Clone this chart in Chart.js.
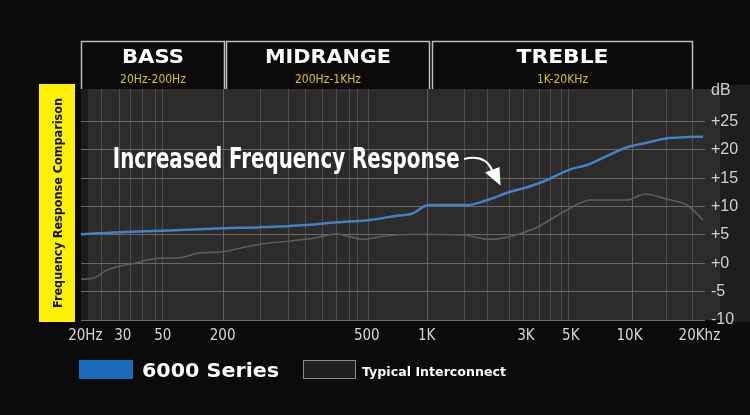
<!DOCTYPE html>
<html><head><meta charset="utf-8">
<script src="https://cdn.jsdelivr.net/npm/chart.js@4/dist/chart.umd.min.js"></script>
<style>html,body{margin:0;padding:0;background:#0b0b0b;}#wrap{width:750px;height:415px;position:relative;}</style>
</head><body><div id="wrap"><canvas id="c" width="750" height="415"></canvas></div>
<script>
// ---- data (x in axis units 0..100 along the stylised frequency axis, y in dB) ----
const seriesNames = ['6000 Series', 'Typical Interconnect'];
const series6000X = [0, 6.2, 13.1, 22.8, 28.7, 36.2, 41.0, 46.3, 50.6, 53.2, 55.1, 56.4, 61.9, 65.1, 68.8, 71.5, 74.7, 78.4, 81.1, 84.3, 87.5, 90.7, 93.9, 96.5, 99.7];
const series6000Y = [5.1, 5.45, 5.73, 6.16, 6.33, 6.74, 7.21, 7.62, 8.38, 8.8, 10.08, 10.26, 10.26, 11.14, 12.6, 13.38, 14.67, 16.55, 17.31, 18.9, 20.43, 21.24, 22.01, 22.19, 22.3];
const typicalX = [0, 1.9, 4.2, 6.25, 9.0, 10.6, 12.7, 15.9, 18.6, 22.8, 26.6, 29.8, 34.0, 37.2, 41.0, 42.6, 45.2, 47.9, 53.2, 61.2, 65.5, 72.4, 77.9, 81.6, 87.5, 90.4, 93.9, 97.1, 99.7];
const typicalY = [-2.83, -2.65, -1.19, -0.49, 0.09, 0.57, 0.87, 0.97, 1.75, 2.03, 2.91, 3.51, 3.97, 4.39, 5.15, 4.79, 4.21, 4.67, 5.10, 4.97, 4.21, 5.98, 9.38, 11.14, 11.14, 12.2, 11.27, 10.26, 7.62];
const xGridPositions = [3.3, 6.1, 8.0, 9.9, 12.0, 13.0, 22.9, 28.8, 33.2, 36.0, 38.7, 41.0, 43.0, 44.3, 46.0, 55.5, 61.4, 65.2, 68.6, 70.9, 73.4, 75.2, 77.0, 78.1, 88.4, 93.9, 98.0];
const xTickPositions = [0.7, 6.7, 13.1, 22.7, 45.8, 55.4, 71.3, 78.5, 87.9, 99.1];
const xTickLabels = ['20Hz', '30', '50', '200', '500', '1K', '3K', '5K', '10K', '20Khz'];
const yTickValues = [-10, -5, 0, 5, 10, 15, 20, 25, 30.5];
const yTickLabels = ['-10', '-5', '+0', '+5', '+10', '+15', '+20', '+25', 'dB'];
const bandNames = ['BASS', 'MIDRANGE', 'TREBLE'];
const bandRanges = ['20Hz-200Hz', '200Hz-1KHz', '1K-20KHz'];
const bandFrom = [0, 23.2, 56.3];
const bandTo = [22.9, 55.8, 97.9];
const sideTitle = 'Frequency Response Comparison';
const noteText = 'Increased Frequency Response';

const NARROW = "'Liberation Sans Narrow','DejaVu Sans Condensed','Liberation Sans',sans-serif";
const SANS = "'Liberation Sans','Arial',sans-serif";
const HEAVY = "'DejaVu Sans','Liberation Sans',sans-serif";
const bandTitleWidths = [62, 126, 92];

function fitText(ctx, text, x, y, w, center) {
  const m = ctx.measureText(text).width;
  ctx.save();
  ctx.translate(x, y);
  ctx.scale(w / m, 1);
  ctx.textAlign = 'left';
  ctx.fillText(text, center ? -m / 2 : 0, 0);
  ctx.restore();
}

const bgPlugin = {
  id: 'bg',
  beforeDraw(chart) {
    const c = chart.ctx, a = chart.chartArea;
    c.save();
    c.fillStyle = '#0b0b0b';
    c.fillRect(0, 0, chart.width, chart.height);
    c.fillStyle = '#2e2b2b';
    c.fillRect(a.left, a.top, a.right - a.left + 15, a.bottom - a.top);
    c.fillStyle = '#1f1e1e';
    c.fillRect(a.right + 15, a.top - 4, chart.width - a.right - 15, a.bottom - a.top + 6);
    c.fillStyle = '#1c1b1b';
    c.fillRect(a.left, a.top, 7, a.bottom - a.top);
    c.restore();
  }
};

const decoPlugin = {
  id: 'deco',
  afterDraw(chart) {
    const c = chart.ctx, a = chart.chartArea, xs = chart.scales.x, ys = chart.scales.y;
    c.save();
    // header bands
    c.strokeStyle = '#bdbdbd';
    c.lineWidth = 1.5;
    for (let i = 0; i < bandNames.length; i++) {
      const l = Math.round(xs.getPixelForValue(bandFrom[i])) + 0.5;
      const r = Math.round(xs.getPixelForValue(bandTo[i])) + 0.5;
      c.beginPath();
      c.moveTo(l, a.top);
      c.lineTo(l, 41.5);
      c.lineTo(r, 41.5);
      c.lineTo(r, a.top);
      c.stroke();
      const cx = (l + r) / 2;
      c.fillStyle = '#ffffff';
      c.font = 'bold 20px ' + HEAVY;
      c.textBaseline = 'alphabetic';
      fitText(c, bandNames[i], cx, 63, bandTitleWidths[i], true);
      c.fillStyle = '#d8c41c';
      c.font = '12px ' + NARROW;
      c.textAlign = 'center';
      c.fillText(bandRanges[i], cx, 83);
    }
    // side label
    c.fillStyle = '#fff200';
    c.fillRect(39, 84, 36, 238);
    c.save();
    c.translate(61.5, 203);
    c.rotate(-Math.PI / 2);
    c.fillStyle = '#111';
    c.font = 'bold 13px ' + NARROW;
    c.textBaseline = 'alphabetic';
    fitText(c, sideTitle, 0, 0, 210, true);
    c.restore();
    // annotation
    c.fillStyle = '#ffffff';
    c.font = 'bold 28px ' + NARROW;
    c.textBaseline = 'alphabetic';
    fitText(c, noteText, xs.getPixelForValue(5.1), ys.getPixelForValue(16.8), 347, false);
    c.strokeStyle = '#ffffff';
    c.lineWidth = 2;
    c.beginPath();
    c.moveTo(464, 159);
    c.quadraticCurveTo(485, 154, 492, 170);
    c.stroke();
    c.beginPath();
    c.moveTo(485, 172.5);
    c.lineTo(499.5, 167);
    c.lineTo(500.5, 185.5);
    c.closePath();
    c.fill();
    // legend
    const ds = chart.data.datasets;
    c.fillStyle = '#1b6cb8';
    c.fillRect(79, 360, 54, 19);
    c.fillStyle = '#ffffff';
    c.font = 'bold 20px ' + HEAVY;
    fitText(c, ds[0].label, 142, 377, 137, false);
    c.fillStyle = '#231f20';
    c.fillRect(303, 360, 53, 19);
    c.strokeStyle = '#8a8a8a';
    c.lineWidth = 1;
    c.strokeRect(303.5, 360.5, 52, 18);
    c.fillStyle = '#ffffff';
    c.font = 'bold 13px ' + HEAVY;
    fitText(c, ds[1].label, 362, 376, 144, false);
    c.restore();
  }
};

new Chart(document.getElementById('c').getContext('2d'), {
  type: 'line',
  data: {
    datasets: [
      { label: seriesNames[0], data: series6000X.map((x, i) => ({ x, y: series6000Y[i] })),
        borderColor: '#4580c8', borderWidth: 2.5, pointRadius: 0, cubicInterpolationMode: 'monotone' },
      { label: seriesNames[1], data: typicalX.map((x, i) => ({ x, y: typicalY[i] })),
        borderColor: '#5f5c5c', borderWidth: 1.6, pointRadius: 0, cubicInterpolationMode: 'monotone' }
    ]
  },
  options: {
    responsive: false, animation: false, devicePixelRatio: 1,
    layout: { padding: { left: 81, top: 89, right: 0, bottom: 65 } },
    plugins: { legend: { display: false }, tooltip: { enabled: false } },
    scales: {
      x: {
        type: 'linear', min: 0, max: 100, position: 'bottom',
        afterBuildTicks: s => { s.ticks = xGridPositions.map(v => ({ value: v })); },
        afterFit: s => { s.height = 0; },
        ticks: { display: false },
        grid: { color: c => ([22.9, 55.5, 88.4].includes(c.tick && c.tick.value) ? '#605e5e' : '#4f4d4d'), lineWidth: 1, drawTicks: false },
        border: { display: false }
      },
      x2: {
        type: 'linear', min: 0, max: 100, position: 'bottom',
        afterBuildTicks: s => { s.ticks = xTickPositions.map(v => ({ value: v })); },
        afterFit: s => { s.height = 30; },
        ticks: { callback: (v, i) => xTickLabels[i], color: '#d6d6d6', font: { family: NARROW, size: 15 }, padding: 7, autoSkip: false, maxRotation: 0 },
        grid: { display: false, drawTicks: false },
        border: { display: false }
      },
      y: {
        type: 'linear', min: -10, max: 30.7, position: 'right',
        afterBuildTicks: s => { s.ticks = yTickValues.map(v => ({ value: v })); },
        afterFit: s => { s.width = 45; },
        ticks: { callback: (v, i) => yTickLabels[i], color: '#d0d0d0', font: { family: SANS, size: 16 }, padding: 6 },
        grid: { color: c => (c.tick && c.tick.value > 26 ? 'rgba(0,0,0,0)' : '#6a6868'), lineWidth: 1, drawTicks: false },
        border: { display: false }
      }
    }
  },
  plugins: [bgPlugin, decoPlugin]
});
</script>
</body></html>
